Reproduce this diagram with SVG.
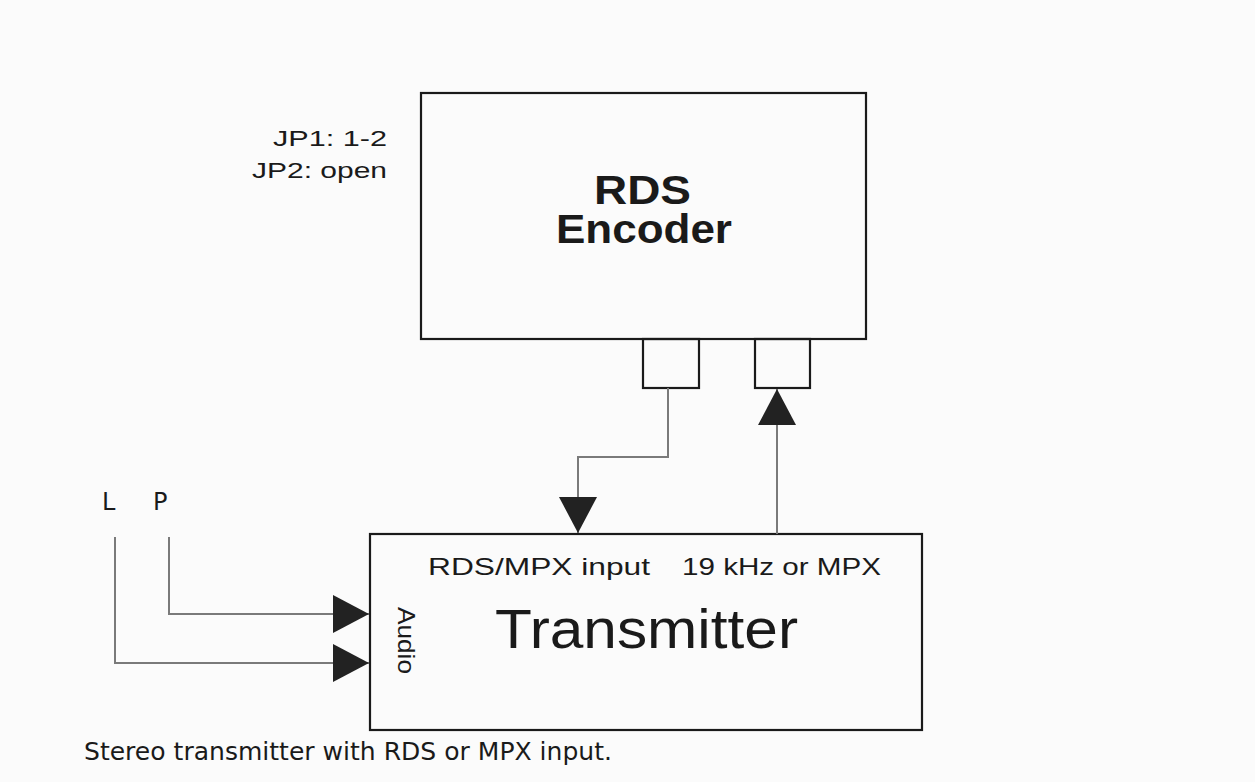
<svg xmlns="http://www.w3.org/2000/svg" width="1255" height="782" viewBox="0 0 1255 782">
<style>
.box{fill:none;stroke:#1a1a1a;stroke-width:2.2}
.wire{fill:none;stroke:#7a7a7a;stroke-width:2}
.lbl{font-family:"Liberation Sans",Arial,sans-serif;fill:#1a1a1a}
.cap{font-family:"DejaVu Sans",Verdana,sans-serif;fill:#1a1a1a}
</style>
<defs>
<marker id="arrow" viewBox="0 0 36 38" refX="36" refY="19" markerWidth="36" markerHeight="38" markerUnits="userSpaceOnUse" orient="auto">
<path d="M0,0 L36,19 L0,38 Z" fill="#222"/>
</marker>
</defs>
<rect width="1255" height="782" fill="#fbfbfb"/>
<g id="rds-encoder">
<rect class="box" x="421" y="93" width="445" height="246"/>
<text class="lbl" x="594" y="204" font-size="40" font-weight="bold" textLength="97" lengthAdjust="spacingAndGlyphs">RDS</text>
<text class="lbl" x="556" y="243" font-size="41" font-weight="bold" textLength="176" lengthAdjust="spacingAndGlyphs">Encoder</text>
</g>
<g id="port-out">
<rect class="box" x="643" y="339" width="56" height="49"/>
</g>
<g id="port-in">
<rect class="box" x="755" y="339" width="55" height="49"/>
</g>
<g id="jumpers">
<text class="lbl" x="273" y="146" font-size="22" textLength="114" lengthAdjust="spacingAndGlyphs">JP1: 1-2</text>
<text class="lbl" x="252" y="178" font-size="22" textLength="135" lengthAdjust="spacingAndGlyphs">JP2: open</text>
</g>
<g id="transmitter">
<rect class="box" x="370" y="534" width="552" height="196"/>
<text class="lbl" x="428" y="575" font-size="24" textLength="222" lengthAdjust="spacingAndGlyphs">RDS/MPX input</text>
<text class="lbl" x="682" y="575" font-size="24" textLength="199" lengthAdjust="spacingAndGlyphs">19 kHz or MPX</text>
<text class="lbl" x="495" y="648" font-size="55" textLength="303" lengthAdjust="spacingAndGlyphs">Transmitter</text>
<text class="lbl" transform="translate(398,607) rotate(90)" font-size="24" textLength="67" lengthAdjust="spacingAndGlyphs">Audio</text>
</g>
<g id="inputs">
<text class="cap" x="102" y="510" font-size="24">L</text>
<text class="cap" x="153" y="510" font-size="24">P</text>
</g>
<g id="connectors">
<path class="wire" d="M668,388 V457 H578 V533" marker-end="url(#arrow)"/>
<path class="wire" d="M777,534 V389" marker-end="url(#arrow)"/>
<path class="wire" d="M169,537 V614 H369" marker-end="url(#arrow)"/>
<path class="wire" d="M115,537 V663 H369" marker-end="url(#arrow)"/>
</g>
<text class="cap" x="84" y="760" font-size="24" textLength="528" lengthAdjust="spacingAndGlyphs">Stereo transmitter with RDS or MPX input.</text>
</svg>
